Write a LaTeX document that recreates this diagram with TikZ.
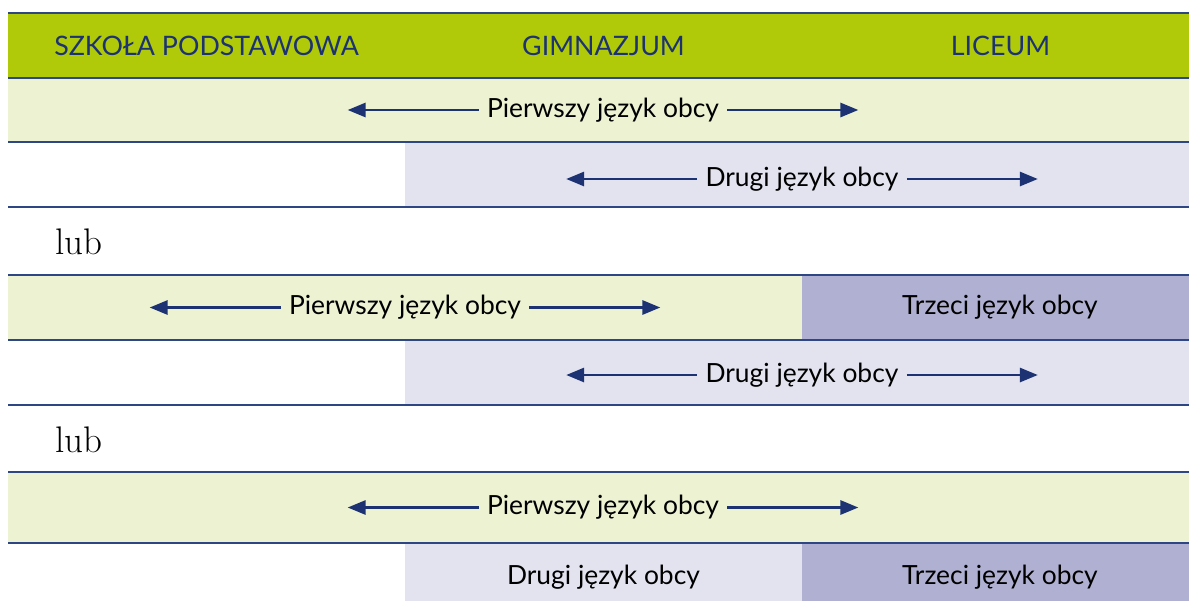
\documentclass[tikz,border=0pt]{standalone}
\usepackage{fontspec}
\setmainfont{Lato}
\newfontfamily\lubfont{Latin Modern Roman}
\usetikzlibrary{arrows.meta,positioning,calc}
\definecolor{hdrgreen}{HTML}{B0CA0A}
\definecolor{palegreen}{HTML}{EDF2D2}
\definecolor{palelav}{HTML}{E2E3EF}
\definecolor{lav}{HTML}{B0B1D2}
\definecolor{navy}{HTML}{1C3272}
\definecolor{rulec}{HTML}{2E4683}
\tikzset{
	hdr/.style={text=navy, font=\fontsize{13.4}{15}\selectfont},
	lang/.style={text=black, font=\fontsize{13.2}{15}\selectfont, inner sep=4pt},
	lubtext/.style={anchor=west, inner sep=0pt, font=\lubfont\fontsize{18.5}{20}\selectfont},
	arr/.style={navy, line width=1.4pt, -{Triangle[length=9pt,width=7pt]}},
	rule/.style={draw=rulec, line width=1pt}
}
\begin{document}
\begin{tikzpicture}[x=0.5pt, y=-0.5pt]
		\useasboundingbox (0,0) rectangle (1189,601);
		% bands
		\fill[hdrgreen] (8,13) rectangle (1189,78);
		\fill[palegreen] (8,78) rectangle (1189,142);
		\fill[palelav] (405,142) rectangle (1189,207);
		\fill[palegreen] (8,275) rectangle (802,340);
		\fill[lav] (802,275) rectangle (1189,340);
		\fill[palelav] (405,340) rectangle (1189,405);
		\fill[palegreen] (8,472) rectangle (1189,543);
		\fill[palelav] (405,543) rectangle (802,601);
		\fill[lav] (802,543) rectangle (1189,601);
		\foreach \y in {13,78,142,207,275,340,405,472,543}
			\draw[rule] (8,\y) -- (1189,\y);
		% header
		\node[hdr] (h1) at (206.5,45.5) {SZKOŁA PODSTAWOWA};
		\node[hdr] (h2) at (603.5,45.5) {GIMNAZJUM};
		\node[hdr] (h3) at (1000.5,45.5) {LICEUM};
		% rows
		\node[lang] (p1) at (603,110) {Pierwszy język obcy};
		\node[lang] (d1) at (802,179) {Drugi język obcy};
		\node[lubtext] (l1) at (55,242) {lub};
		\node[lang] (p2) at (405,307.5) {Pierwszy język obcy};
		\node[lang] (t1) at (1000,307.5) {Trzeci język obcy};
		\node[lang] (d2) at (802,375) {Drugi język obcy};
		\node[lubtext] (l2) at (55,440) {lub};
		\node[lang] (p3) at (603,507.5) {Pierwszy język obcy};
		\node[lang] (d3) at (603.5,577) {Drugi język obcy};
		\node[lang] (t2) at (1000,577) {Trzeci język obcy};
		\foreach \n in {p1,d1,p2,d2,p3} {
			\coordinate[left=65.5pt of \n] (\n-l);
			\coordinate[right=65.5pt of \n] (\n-r);
			\draw[arr] (\n.west) -- (\n-l);
			\draw[arr] (\n.east) -- (\n-r);}
	\end{tikzpicture}
\end{document}
